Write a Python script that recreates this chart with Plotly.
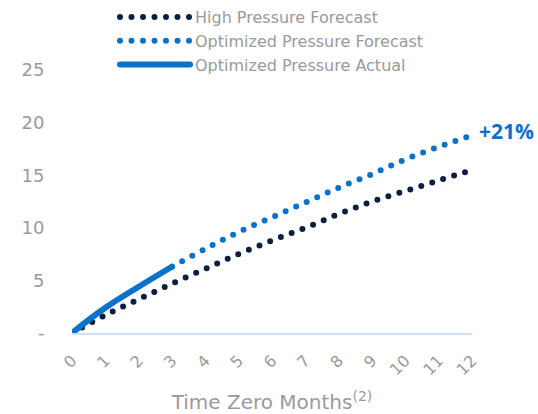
import plotly.graph_objects as go

months = list(range(0, 13))
month_labels = [str(m) for m in months]

high_forecast = [0, 1.7, 3.2, 4.7, 6.1, 7.5, 8.8, 10.0, 11.3, 12.5, 13.5, 14.5, 15.5]
opt_forecast_months = [3, 4, 5, 6, 7, 8, 9, 10, 11, 12]
opt_forecast = [6.3, 8.0, 9.6, 11.0, 12.4, 13.8, 15.1, 16.5, 17.7, 18.8]
actual_months = [0, 1, 2, 3]
opt_actual = [0, 2.4, 4.4, 6.3]

y_tickvals = [0, 5, 10, 15, 20, 25]
y_ticktext = ["-", "5", "10", "15", "20", "25"]

NAVY = "#0b1f45"
BLUE = "#0a72c9"
GRAY = "#9a9a9a"
FONT = "DejaVu Sans, sans-serif"

fig = go.Figure()
fig.add_trace(go.Scatter(
    x=months, y=high_forecast, mode="lines", name="High Pressure Forecast",
    line=dict(color=NAVY, width=6, dash="0px,11.5px", shape="spline"),
))
fig.add_trace(go.Scatter(
    x=opt_forecast_months, y=opt_forecast, mode="lines", name="Optimized Pressure Forecast",
    line=dict(color=BLUE, width=6, dash="0px,11.5px", shape="spline"),
))
fig.add_trace(go.Scatter(
    x=actual_months, y=opt_actual, mode="lines", name="Optimized Pressure Actual",
    line=dict(color=BLUE, width=6, shape="spline", smoothing=1.3),
))

fig.add_annotation(
    x=12, y=19.2, xref="x", yref="y", text="<b>+21%</b>", showarrow=False,
    xanchor="left", yanchor="middle", xshift=5,
    font=dict(color=BLUE, size=21, family="Open Sans, sans-serif"),
)

fig.update_layout(
    width=538, height=414,
    margin=dict(l=72, r=66, t=70, b=81, autoexpand=False),
    paper_bgcolor="white", plot_bgcolor="white",
    font=dict(family=FONT, color=GRAY),
    showlegend=True,
    legend=dict(
        xref="container", yref="container",
        x=115 / 538, y=1.0, xanchor="left", yanchor="top",
        itemwidth=70, tracegroupgap=0,
        font=dict(size=16, color=GRAY, family=FONT),
        bgcolor="rgba(0,0,0,0)",
    ),
    xaxis=dict(
        range=[0, 12], tickvals=months, ticktext=month_labels, tickangle=-45,
        showgrid=False, zeroline=False, showline=True, linecolor="#cfe0f8", linewidth=2,
        tickfont=dict(size=16, color=GRAY), automargin=False,
        ticks="outside", ticklen=10, tickcolor="rgba(0,0,0,0)",
        title=dict(text="Time Zero Months<sup>(2)</sup>", font=dict(size=20, color=GRAY), standoff=17),
    ),
    yaxis=dict(
        range=[0, 25], tickvals=y_tickvals, ticktext=y_ticktext,
        showgrid=False, zeroline=False, showline=False, automargin=False,
        tickfont=dict(size=18, color=GRAY),
        ticks="outside", ticklen=23, tickcolor="rgba(0,0,0,0)",
    ),
)

post = """
document.body.style.margin = '0';
document.body.style.padding = '0';
var gd = document.getElementById('{plot_id}');
function fixCaps(){
  document.querySelectorAll('.js-line').forEach(function(p){ p.style.strokeLinecap = 'round'; });
}
fixCaps();
if (gd && gd.on) { gd.on('plotly_afterplot', fixCaps); }
"""
fig.write_html("out.html", post_script=post, config={"displayModeBar": False})
